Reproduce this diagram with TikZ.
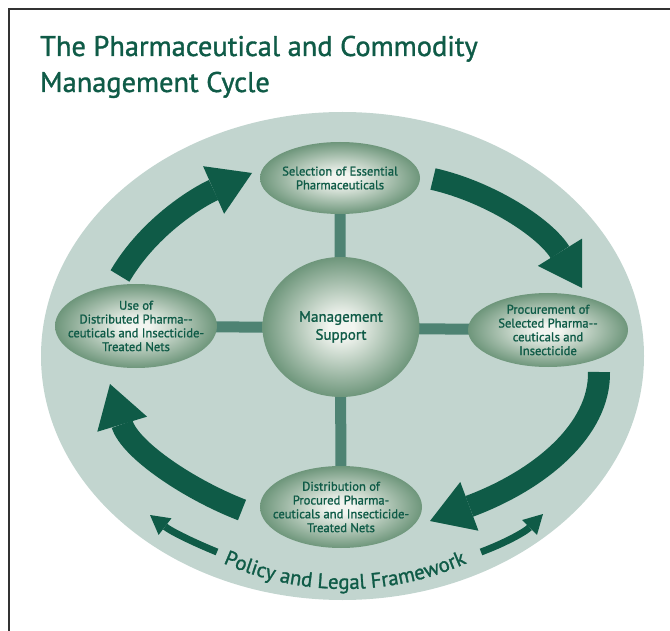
\documentclass[tikz,border=0pt]{standalone}
\usepackage{fontspec}
\setmainfont{PT Sans}
\newfontfamily\semibold[FakeBold=1.2]{PT Sans}
\usetikzlibrary{arrows.meta,shapes.geometric,decorations.text}
\definecolor{dkgreen}{HTML}{0F5B47}
\definecolor{paleback}{HTML}{C2D5CF}
\definecolor{barcol}{HTML}{4E8373}
\definecolor{ballin}{HTML}{F2F5F0}
\definecolor{ballout}{HTML}{6E967B}
\pgfdeclareradialshading{ballshade}{\pgfpoint{0bp}{0bp}}{color(0bp)=(ballin); color(4bp)=(ballin); color(25bp)=(ballout); color(50bp)=(ballout)}
\pgfdeclarelayer{back}
\pgfdeclarelayer{mid}
\pgfsetlayers{back,mid,main}
\tikzset{
  titletext/.style={text=dkgreen, font=\semibold\fontsize{28.4pt}{28.4pt}\selectfont, anchor=base west, inner sep=0},
  ball/.style={ellipse, shading=ballshade, draw=none, inner sep=0},
  balltext/.style={text=dkgreen, align=center, font=\semibold\fontsize{12.6pt}{13.8pt}\selectfont, inner sep=0},
  bar/.style={draw=barcol, line width=11pt},
  bigarrow/.style={draw=dkgreen, line width=22pt, -{Triangle[length=42pt,width=52pt,line width=0pt]}},
  smallarrow/.style={draw=dkgreen, line width=7pt, -{Triangle[length=19pt,width=21pt,line width=0pt]}}
}
\begin{document}
\begin{tikzpicture}[x=1pt, y=-1pt]
\useasboundingbox (0,0) rectangle (670,631);
\draw[line width=2pt, draw=black!80] (9,640) -- (9,9) -- (680,9);
\node[titletext] (t1) at (40,56) {The Pharmaceutical and Commodity};
\node[titletext] (t2) at (40,92) {Management Cycle};
\begin{pgfonlayer}{back}
\node[ellipse, fill=paleback, minimum width=603pt, minimum height=488pt, inner sep=0] (bigell) at (342.5,356) {};
\end{pgfonlayer}
\node[ball, minimum width=160pt, minimum height=72pt] (sel) at (340,178) {};
\node[ball, minimum width=162pt, minimum height=84pt] (use) at (136,326) {};
\node[ball, minimum width=160pt, minimum height=74pt] (proc) at (548,330) {};
\node[ball, minimum width=162pt, minimum height=82pt] (dist) at (341,507) {};
\node[ball, minimum width=157pt, minimum height=140pt] (mgmt) at (341,327) {};
\begin{pgfonlayer}{mid}
\draw[bar] (sel.center) -- (dist.center);
\draw[bar] (use.center) -- (proc.center);
\end{pgfonlayer}
\node[balltext] (selt) at (sel) {Selection of Essential\\Pharmaceuticals};
\node[balltext] (uset) at (use) {Use of\\Distributed Pharma-{}-\\ceuticals and Insecticide-\\Treated Nets};
\node[balltext] (proct) at (proc) {Procurement of\\Selected Pharma-{}-\\ceuticals and\\Insecticide};
\node[balltext] (distt) at (dist) {Distribution of\\Procured Pharma-\\ceuticals and Insecticide-\\Treated Nets};
\node[balltext, font=\semibold\fontsize{15pt}{18pt}\selectfont] (mgmtt) at (mgmt) {Management\\Support};
\coordinate (a1s) at (120,276);
\coordinate (a1e) at (252,173);
\coordinate (a2s) at (433,179);
\coordinate (a2e) at (582,288);
\coordinate (a3s) at (599,372);
\coordinate (a3e) at (430,521);
\coordinate (a4s) at (242,510);
\coordinate (a4e) at (110,384);
\draw[bigarrow] (a1s) .. controls (150,225) and (200,196) .. (a1e);
\draw[bigarrow] (a2s) .. controls (490,192) and (545,228) .. (a2e);
\draw[bigarrow] (a3s) .. controls (600,430) and (540,480) .. (a3e);
\draw[bigarrow] (a4s) .. controls (190,490) and (130,450) .. (a4e);
\coordinate (s1s) at (217,552);
\coordinate (s1e) at (150,515);
\coordinate (s2s) at (481,552);
\coordinate (s2e) at (543,514);
\draw[smallarrow] (s1s) .. controls (195,543) and (172,532) .. (s1e);
\draw[smallarrow] (s2s) .. controls (505,543) and (525,532) .. (s2e);
\path[decorate, decoration={text along path, text color=dkgreen, text align=center, text={|\semibold\fontsize{20.8pt}{20.8pt}\selectfont|Policy and Legal Framework}}] (345,289) ++(116:300) arc[start angle=116, end angle=64, radius=300];
\end{tikzpicture}
\end{document}
